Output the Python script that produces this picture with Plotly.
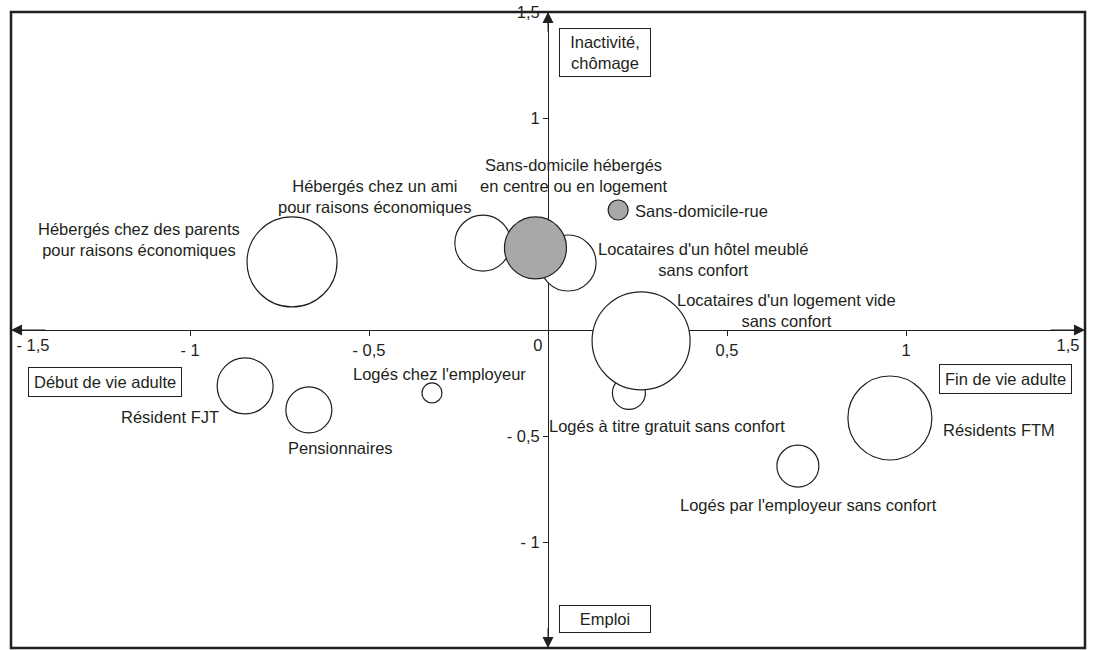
import plotly.graph_objects as go

# ---------------- data ----------------
categories = [
    "Logés à titre gratuit sans confort",
    "Locataires d'un logement vide sans confort",
    "Hébergés chez un ami pour raisons économiques",
    "Locataires d'un hôtel meublé sans confort",
    "Sans-domicile hébergés en centre ou en logement",
    "Sans-domicile-rue",
    "Hébergés chez des parents pour raisons économiques",
    "Résident FJT",
    "Pensionnaires",
    "Logés chez l'employeur",
    "Résidents FTM",
    "Logés par l'employeur sans confort",
]
axe1 = [0.226, 0.260, -0.182, 0.056, -0.035, 0.196, -0.715, -0.846, -0.668, -0.324, 0.955, 0.698]
axe2 = [-0.297, -0.051, 0.410, 0.316, 0.387, 0.566, 0.321, -0.264, -0.377, -0.297, -0.415, -0.642]
taille = [33, 98, 56, 56, 62, 20, 90, 56, 46, 20, 84, 42]
sans_domicile = [False, False, False, False, True, True, False, False, False, False, False, False]

labels = [
    "Logés à titre gratuit sans confort",
    "Locataires d'un logement vide<br>sans confort",
    "Hébergés chez un ami<br>pour raisons économiques",
    "Locataires d'un hôtel meublé<br>sans confort",
    "Sans-domicile hébergés<br>en centre ou en logement",
    "Sans-domicile-rue",
    "Hébergés chez des parents<br>pour raisons économiques",
    "Résident FJT",
    "Pensionnaires",
    "Logés chez l'employeur",
    "Résidents FTM",
    "Logés par l'employeur sans confort",
]

x_ticks_mid = [-1, -0.5, 0.5, 1]
x_text_mid = ["- 1", "- 0,5", "0,5", "1"]
x_ticks_left = [-1.5]
x_text_left = ["- 1,5"]
x_ticks_right = [0, 1.5]
x_text_right = ["0", "1,5"]
y_ticks = [1.5, 1, 0.5, -0.5, -1, -1.5]
y_text = ["1,5", "1", "", "- 0,5", "- 1", "- 1,5"]

pole_labels = ["Début de vie adulte", "Fin de vie adulte", "Inactivité,<br>chômage", "Emploi"]

# ---------------- layout helpers (positions of text, not data) ----------------
label_pos = [
    (0.332, -0.453, "center"),
    (0.665, 0.094, "center"),
    (-0.483, 0.632, "center"),
    (0.432, 0.333, "center"),
    (0.073, 0.731, "center"),
    (0.237, 0.561, "left"),
    (-0.855, 0.425, "right"),
    (-1.056, -0.410, "center"),
    (-0.581, -0.557, "center"),
    (-0.302, -0.208, "center"),
    (1.260, -0.472, "center"),
    (0.729, -0.825, "center"),
]
pole_pos = [(-1.237, -0.245, None), (1.279, -0.231, None), (0.159, 1.311, 82), (0.159, -1.363, 82)]

INK = "#231f20"
FONT = "Liberation Sans, Arial, Helvetica, sans-serif"
FS = 16.5

fig = go.Figure()
fig.add_trace(go.Scatter(
    x=axe1, y=axe2, mode="markers", text=categories, hoverinfo="text",
    marker=dict(size=taille, sizemode="diameter", sizeref=1,
                color=["#a7a8aa" if s else "white" for s in sans_domicile],
                opacity=1, line=dict(color=INK, width=1.2)),
    showlegend=False,
))
fig.add_trace(go.Scatter(x=[], y=[], xaxis="x2", yaxis="y", showlegend=False, hoverinfo="skip"))
fig.add_trace(go.Scatter(x=[], y=[], xaxis="x3", yaxis="y", showlegend=False, hoverinfo="skip"))

ann = []
for (lx, ly, anc), t in zip(label_pos, labels):
    ann.append(dict(x=lx, y=ly, xref="x", yref="y", text=t, showarrow=False,
                    xanchor=anc, yanchor="middle", align="center",
                    font=dict(family=FONT, size=FS, color=INK)))
for (px, py, w), t in zip(pole_pos, pole_labels):
    d = dict(x=px, y=py, xref="x", yref="y", text=t, showarrow=False,
             xanchor="center", yanchor="middle", align="center",
             bordercolor=INK, borderwidth=1, borderpad=5, bgcolor="white",
             font=dict(family=FONT, size=FS, color=INK))
    if w:
        d["width"] = w
        d["borderpad"] = 4
    ann.append(d)
# arrow heads at the ends of both axes
for hx, hy, tx, ty in [(1.5, 0, 1.4, 0), (-1.5, 0, -1.4, 0), (0, 1.5, 0, 1.4), (0, -1.5, 0, -1.4)]:
    ann.append(dict(x=hx, y=hy, ax=tx, ay=ty, xref="x", yref="y", axref="x", ayref="y",
                    text="", showarrow=True, arrowhead=2, arrowsize=2.2, arrowwidth=1,
                    arrowcolor=INK, standoff=0))

common_x = dict(range=[-1.5, 1.5], showgrid=False, zeroline=False, ticks="outside",
                ticklen=5, tickwidth=1, tickcolor=INK, anchor="free", position=0.5,
                side="bottom", layer="below traces", fixedrange=True,
                tickfont=dict(family=FONT, size=FS, color=INK))

fig.update_layout(
    width=1094, height=650,
    margin=dict(l=11, r=9, t=12, b=2),
    paper_bgcolor="white", plot_bgcolor="white",
    xaxis=dict(**common_x, tickvals=x_ticks_mid, ticktext=x_text_mid,
               showline=True, linecolor=INK, linewidth=1),
    xaxis2=dict(**common_x, overlaying="x", tickvals=x_ticks_left, ticktext=x_text_left,
                ticklabelposition="outside right", ticklabelshift=5, showline=False),
    xaxis3=dict(**common_x, overlaying="x", tickvals=x_ticks_right, ticktext=x_text_right,
                ticklabelposition="outside left", ticklabelshift=-5, showline=False),
    yaxis=dict(range=[-1.5, 1.5], showgrid=False, zeroline=False, ticks="outside",
               ticklen=5, tickwidth=1, tickcolor=INK, anchor="free", position=0.5,
               side="left", layer="below traces", fixedrange=True,
               tickvals=y_ticks, ticktext=y_text, showline=True, linecolor=INK, linewidth=1,
               tickfont=dict(family=FONT, size=FS, color=INK)),
    annotations=ann,
    shapes=[dict(type="rect", xref="paper", yref="paper", x0=0, x1=1, y0=0, y1=1,
                 line=dict(color=INK, width=2.5), layer="below")],
    font=dict(family=FONT, size=FS, color=INK),
)

fig.write_html(
    "out.html",
    config={"displayModeBar": False},
    post_script="document.body.style.margin='0';document.body.style.overflow='hidden';",
)
